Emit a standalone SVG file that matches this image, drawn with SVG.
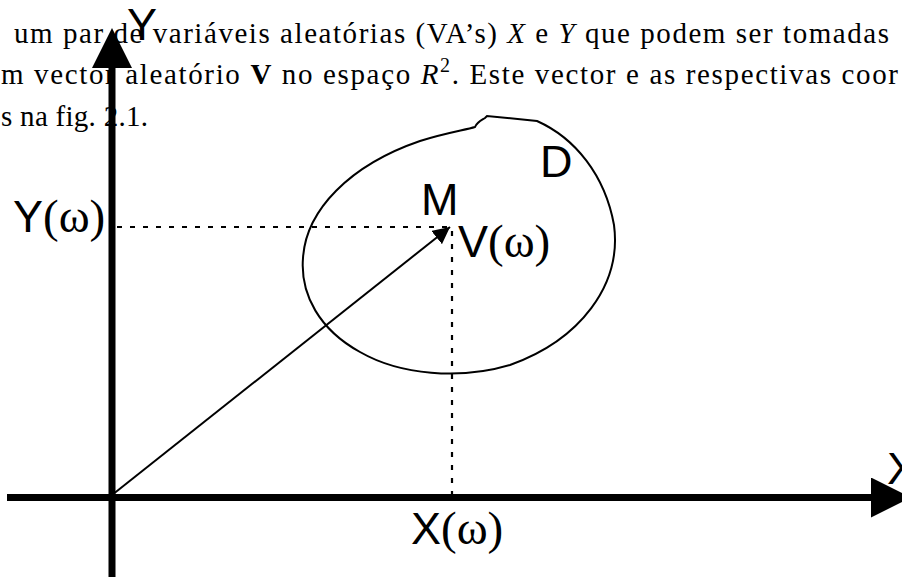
<svg xmlns="http://www.w3.org/2000/svg" width="902" height="577" viewBox="0 0 902 577">
  <style>
    .body { font-family: "Liberation Serif", "Times New Roman", serif; font-size: 29px; fill: #000; }
    .lab { font-family: "Liberation Sans", Arial, sans-serif; font-size: 45px; fill: #000; }
    .om { font-family: "Liberation Serif", "Times New Roman", serif; font-size: 47px; }
    .axis { stroke: #000; stroke-width: 7; fill: none; }
    .thin { stroke: #000; stroke-width: 2; fill: none; }
    .dot { stroke: #000; stroke-width: 2.2; fill: none; stroke-dasharray: 5 8; }
  </style>
  <defs>
    <marker id="axisHead" markerUnits="userSpaceOnUse" viewBox="0 0 40 40" markerWidth="40" markerHeight="40" refX="0" refY="20" orient="auto">
      <path d="M0,0 L40,20 L0,40 Z" fill="#000"/>
    </marker>
    <marker id="vecHead" markerUnits="userSpaceOnUse" viewBox="0 0 17 17" markerWidth="17" markerHeight="17" refX="17" refY="8.5" orient="auto">
      <path d="M0,0 L17,8.5 L0,17 Z" fill="#000"/>
    </marker>
  </defs>

  <g id="page-text" class="body">
    <text x="14" y="43" textLength="875" lengthAdjust="spacing">um par de variáveis aleatórias (VA’s) <tspan font-style="italic">X</tspan> e <tspan font-style="italic">Y</tspan> que podem ser tomadas</text>
    <text x="1" y="84" textLength="897" lengthAdjust="spacing">m vector aleatório <tspan font-weight="bold">V</tspan> no espaço <tspan font-style="italic">R</tspan><tspan font-size="20" dy="-12">2</tspan><tspan dy="12">. Este vector e as respectivas coor</tspan></text>
    <text x="1" y="126" textLength="147" lengthAdjust="spacing">s na fig. 2.1.</text>
  </g>

  <g id="region-D">
    <path class="thin" d="M537,121 C575,138 605,175 614,225 C622,285 580,340 510,365 C460,380 400,375 360,352 C320,330 300,295 303,258 C306,210 350,165 420,141 C445,133 465,130 475,127 C477,122 482,120 485,118 L487,116 Z"/>
    <text class="lab" x="540" y="177">D</text>
  </g>

  <g id="connectors">
    <line id="proj-y" class="dot" x1="117" y1="227" x2="450" y2="227"/>
    <line id="proj-x" class="dot" x1="452" y1="231" x2="452" y2="496"/>
    <line id="vector-V" class="thin" x1="112" y1="495" x2="450" y2="227" marker-end="url(#vecHead)"/>
  </g>

  <g id="axis-y">
    <line class="axis" x1="112" y1="577" x2="112" y2="68" marker-end="url(#axisHead)"/>
    <text class="lab" x="127" y="40" font-size="41">Y</text>
  </g>
  <g id="axis-x">
    <line class="axis" x1="7" y1="497.5" x2="871" y2="497.5" marker-end="url(#axisHead)"/>
    <text class="lab" x="887" y="484" font-size="40">X</text>
  </g>

  <g id="label-Yw">
    <text class="lab" x="13" y="232">Y<tspan class="om">(ω)</tspan></text>
  </g>
  <g id="label-M">
    <text class="lab" x="421" y="215">M</text>
  </g>
  <g id="label-Vw">
    <text class="lab" x="458" y="257">V<tspan class="om">(ω)</tspan></text>
  </g>
  <g id="label-Xw">
    <text class="lab" x="411" y="544">X<tspan class="om">(ω)</tspan></text>
  </g>
</svg>
